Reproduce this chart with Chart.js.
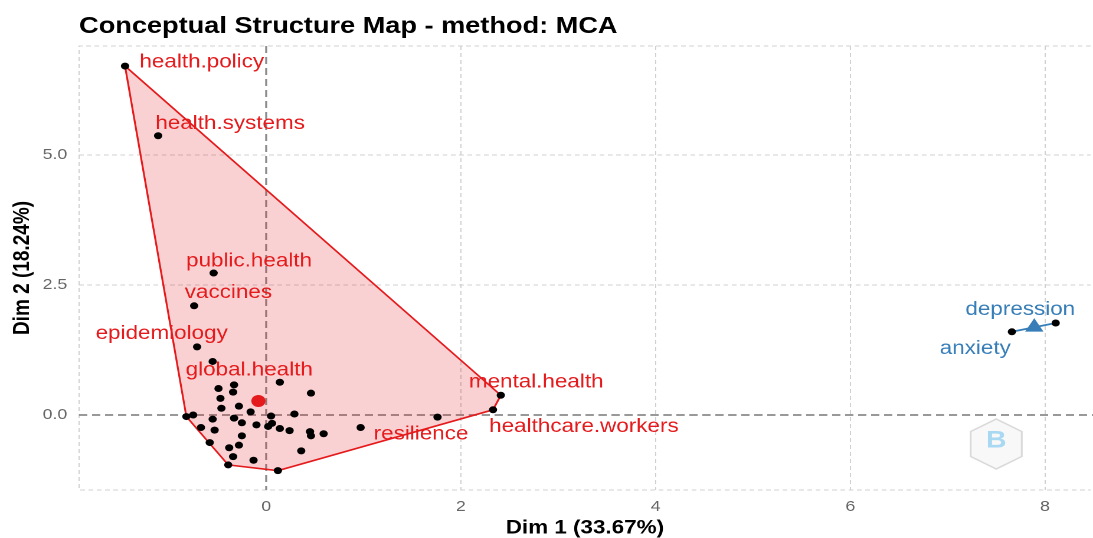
<!DOCTYPE html>
<html lang="en">
<head>
<meta charset="UTF-8">
<title>Conceptual Structure Map - method: MCA</title>
<script src="https://cdn.jsdelivr.net/npm/chart.js"></script>
<style>
  body { margin: 0; background: #fff; }
  #map { display: block; }
</style>
</head>
<body>
<!-- drawn at 926px wide, then stretched to 1093px like the source image -->
<canvas id="map" width="926" height="538" style="width:1093px;height:538px"></canvas>
<script>
// cluster 1 (red) - terms and coordinates, '' = no label
const words1 = ['health.policy', 'health.systems', 'public.health', 'vaccines', 'epidemiology',
  'global.health', 'mental.health', 'healthcare.workers', 'resilience',
  '', '', '', '', '', '', '', '', '', '', '', '', '', '', '', '', '', '', '', '', '', '', '', '', '', '', '', '', '', '', '', '', '', '', '', '']
const dim1a = [-1.45, -1.11, -0.54, -0.74, -0.71, -0.55, 2.41, 2.33, 1.76,
  -0.33, -0.49, 0.14, 0.46, -0.34, -0.47, -0.28, -0.46, -0.16, -0.75, -0.82, 0.05, 0.29,
  -0.55, -0.33, -0.25, -0.10, 0.02, 0.06, 0.14, 0.24, 0.45, 0.46, 0.59, 0.97, -0.67,
  -0.53, -0.25, -0.58, -0.28, -0.38, 0.36, -0.34, -0.13, -0.39, 0.12]
const dim2a = [6.71, 5.37, 2.73, 2.10, 1.31, 1.03, 0.38, 0.10, -0.04,
  0.58, 0.51, 0.63, 0.42, 0.44, 0.32, 0.17, 0.13, 0.06, 0.00, -0.03, -0.02, 0.02,
  -0.08, -0.06, -0.15, -0.19, -0.22, -0.16, -0.26, -0.30, -0.32, -0.40, -0.36, -0.24, -0.24,
  -0.29, -0.40, -0.53, -0.58, -0.63, -0.69, -0.80, -0.87, -0.96, -1.07]

// cluster 2 (blue)
const words2 = ['depression', 'anxiety']
const dim1b = [8.11, 7.66]
const dim2b = [1.77, 1.60]

// cluster centres
const centre1 = [-0.08, 0.27]
const centre2 = [7.89, 1.69]

const xTickValues = [0, 2, 4, 6, 8]
const xTickLabels = ['0', '2', '4', '6', '8']
const yTickValues = [0, 2.5, 5]
const yTickLabels = ['0.0', '2.5', '5.0']

const RED = '#E41A1C'
const BLUE = '#377EB8'
const FONT = "'Liberation Sans', Arial, sans-serif"

// where each label sits relative to its point (px)
const labelShift = {
  'health.policy': [65, -4],
  'health.systems': [61, -12],
  'public.health': [30, -12],
  'vaccines': [29, -13],
  'epidemiology': [-30, -13],
  'global.health': [31, 9],
  'mental.health': [30, -13],
  'healthcare.workers': [77, 17],
  'resilience': [-14, 17],
  'depression': [-30, -13],
  'anxiety': [-31, 17],
}

const toPoints = (xs, ys) => xs.map((x, i) => ({ x: x, y: ys[i] }))

// convex hull (monotone chain), closed back to the first point
function hull(pts) {
  const p = pts.slice().sort((a, b) => a.x - b.x || a.y - b.y)
  if (p.length < 3) return p
  const cross = (o, a, b) => (a.x - o.x) * (b.y - o.y) - (a.y - o.y) * (b.x - o.x)
  const lower = [], upper = []
  for (const q of p) {
    while (lower.length >= 2 && cross(lower[lower.length - 2], lower[lower.length - 1], q) <= 0) lower.pop()
    lower.push(q)
  }
  for (let i = p.length - 1; i >= 0; i--) {
    const q = p[i]
    while (upper.length >= 2 && cross(upper[upper.length - 2], upper[upper.length - 1], q) <= 0) upper.pop()
    upper.push(q)
  }
  upper.pop(); lower.pop()
  const h = lower.concat(upper)
  h.push(h[0])
  return h
}

const pts1 = toPoints(dim1a, dim2a)
const pts2 = toPoints(dim1b, dim2b)

const panelPlugin = {
  id: 'panel',
  beforeDatasetsDraw(chart) {
    const { ctx, chartArea: a, scales } = chart
    ctx.save()
    ctx.strokeStyle = '#D0D0D0'
    ctx.lineWidth = 1
    ctx.setLineDash([4, 3])
    ctx.beginPath()
    ctx.moveTo(a.right, a.top); ctx.lineTo(a.left, a.top)
    ctx.lineTo(a.left, a.bottom); ctx.lineTo(a.right, a.bottom)
    ctx.stroke()
    // zero reference lines
    ctx.strokeStyle = '#8A8A8A'
    ctx.lineWidth = 1.7
    ctx.setLineDash([7, 4])
    const y0 = scales.y.getPixelForValue(0)
    const x0 = scales.x.getPixelForValue(0)
    ctx.beginPath()
    ctx.moveTo(a.left, y0); ctx.lineTo(chart.width, y0)
    ctx.moveTo(x0, a.top); ctx.lineTo(x0, a.bottom)
    ctx.stroke()
    ctx.restore()
  },
  afterDatasetsDraw(chart) {
    const { ctx, scales } = chart
    ctx.save()
    ctx.font = '19px ' + FONT
    ctx.textAlign = 'center'
    ctx.textBaseline = 'middle'
    const put = (words, pts, color) => {
      ctx.fillStyle = color
      words.forEach((w, i) => {
        if (!w) return
        const s = labelShift[w] || [0, -12]
        ctx.fillText(w, scales.x.getPixelForValue(pts[i].x) + s[0], scales.y.getPixelForValue(pts[i].y) + s[1])
      })
    }
    put(words1, pts1, RED)
    put(words2, pts2, BLUE)
    ctx.restore()
  },
  afterDraw(chart) {
    const { ctx, chartArea: a } = chart
    ctx.save()
    ctx.fillStyle = '#000'
    ctx.font = 'bold 23px ' + FONT
    ctx.textAlign = 'left'
    ctx.textBaseline = 'alphabetic'
    ctx.fillText('Conceptual Structure Map - method: MCA', a.left, 33)
    // faint logo, bottom right
    const cx = 844, cy = 444, r = 25
    ctx.beginPath()
    for (let k = 0; k < 6; k++) {
      const ang = Math.PI / 3 * k - Math.PI / 2
      const px = cx + r * Math.cos(ang), py = cy + r * Math.sin(ang)
      k ? ctx.lineTo(px, py) : ctx.moveTo(px, py)
    }
    ctx.closePath()
    ctx.fillStyle = '#F8F8F8'
    ctx.fill()
    ctx.strokeStyle = '#D9D9D9'
    ctx.lineWidth = 1.5
    ctx.setLineDash([])
    ctx.stroke()
    ctx.fillStyle = '#A9D9F2'
    ctx.font = 'bold 24px ' + FONT
    ctx.textAlign = 'center'
    ctx.textBaseline = 'middle'
    ctx.fillText('B', cx, cy - 3)
    ctx.restore()
  }
}

new Chart(document.getElementById('map'), {
  type: 'scatter',
  data: {
    datasets: [
      {
        type: 'line',
        data: hull(pts1),
        borderColor: RED,
        borderWidth: 1.6,
        backgroundColor: 'rgba(228, 26, 28, 0.2)',
        fill: 'shape',
        pointRadius: 0,
        tension: 0,
        order: 5,
      },
      {
        type: 'line',
        data: hull(pts2),
        borderColor: BLUE,
        borderWidth: 1.8,
        fill: false,
        pointRadius: 0,
        order: 4,
      },
      {
        data: pts1.concat(pts2),
        backgroundColor: '#000',
        borderWidth: 0,
        pointRadius: 3.5,
        order: 3,
      },
      {
        data: [{ x: centre1[0], y: centre1[1] }],
        backgroundColor: RED,
        borderWidth: 0,
        pointRadius: 6,
        order: 2,
      },
      {
        data: [{ x: centre2[0], y: centre2[1] }],
        backgroundColor: BLUE,
        borderWidth: 0,
        pointStyle: 'triangle',
        pointRadius: 9,
        order: 1,
      },
    ]
  },
  options: {
    responsive: false,
    devicePixelRatio: 2,
    animation: false,
    events: [],
    layout: { autoPadding: false, padding: { top: 46, right: 2, bottom: 0, left: 0 } },
    plugins: {
      legend: { display: false },
      tooltip: { enabled: false },
    },
    scales: {
      x: {
        type: 'linear',
        min: -1.922,
        max: 8.469,
        afterBuildTicks: (s) => { s.ticks = xTickValues.map(v => ({ value: v })) },
        afterFit: (s) => { s.height = 48; s.paddingLeft = 0; s.paddingRight = 0 },
        ticks: {
          callback: (v, i) => xTickLabels[i],
          color: '#666',
          font: { size: 15, family: FONT },
          padding: 8,
          maxRotation: 0,
          autoSkip: false,
        },
        grid: {
          color: (c) => c.tick && c.tick.value === 0 ? 'rgba(0,0,0,0)' : '#D0D0D0',
          lineWidth: 1,
          drawTicks: false,
        },
        border: { display: false, dash: [4, 3] },
        title: {
          display: true,
          text: 'Dim 1 (33.67%)',
          color: '#000',
          font: { size: 19, weight: 'bold', family: FONT, lineHeight: 1 },
          padding: { top: 0, bottom: 0 },
        },
      },
      y: {
        type: 'linear',
        min: -1.442,
        max: 7.096,
        afterBuildTicks: (s) => { s.ticks = yTickValues.map(v => ({ value: v })) },
        afterFit: (s) => { s.width = 67; s.paddingTop = 0; s.paddingBottom = 0 },
        ticks: {
          callback: (v, i) => yTickLabels[i],
          color: '#666',
          font: { size: 15, family: FONT },
          padding: 10,
        },
        grid: {
          color: (c) => c.tick && c.tick.value === 0 ? 'rgba(0,0,0,0)' : '#D0D0D0',
          lineWidth: 1,
          drawTicks: false,
        },
        border: { display: false, dash: [4, 3] },
        title: {
          display: true,
          text: 'Dim 2 (18.24%)',
          color: '#000',
          font: { size: 19, weight: 'bold', family: FONT },
          padding: { top: 8, bottom: 0 },
        },
      },
    },
  },
  plugins: [panelPlugin],
})
</script>
</body>
</html>
